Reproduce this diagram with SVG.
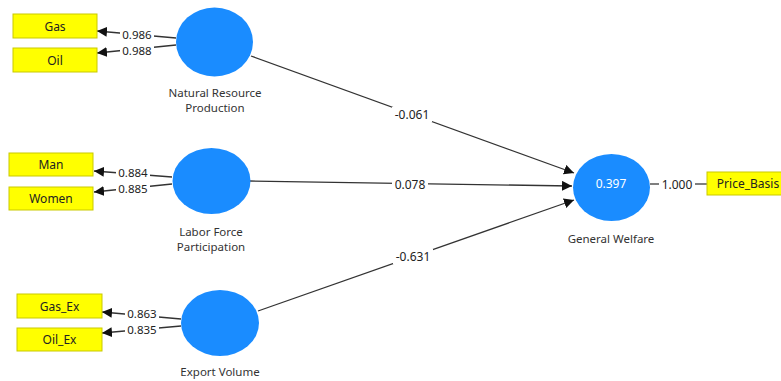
<svg xmlns="http://www.w3.org/2000/svg" width="781" height="381" viewBox="0 0 781 381">
<defs>
<marker id="ah" viewBox="0 0 10 10" refX="10" refY="5" markerWidth="10" markerHeight="10" markerUnits="userSpaceOnUse" orient="auto">
<path d="M0,0 L10,5 L0,10 z" fill="#111"/>
</marker>
<style>
.lv{fill:#1a8cff;}
.mv{fill:#ffff00;stroke:#c9c900;stroke-width:1;}
.t{font-family:"Noto Sans","Open Sans",sans-serif;font-size:12px;fill:#222;text-anchor:middle;dominant-baseline:central;}
.wt{font-family:"Noto Sans","Open Sans",sans-serif;font-size:11.5px;fill:#222;text-anchor:middle;dominant-baseline:central;}
.nl{font-family:"Noto Sans","Open Sans",sans-serif;font-size:11.5px;fill:#333;text-anchor:middle;}
.c{stroke:#555;stroke-width:1.3;fill:none;}
.ca{stroke:#333;stroke-width:1.3;fill:none;marker-end:url(#ah);}
.lb{fill:#ffffff;}
</style>
</defs>
<rect width="781" height="381" fill="#ffffff"/>

<g id="connectors">
<line class="ca" x1="176" y1="38" x2="97" y2="31"/>
<line class="ca" x1="176" y1="45" x2="97" y2="53"/>
<line class="ca" x1="172" y1="177" x2="94" y2="171"/>
<line class="ca" x1="172" y1="184" x2="94" y2="192"/>
<line class="ca" x1="181" y1="319" x2="102" y2="312"/>
<line class="ca" x1="181" y1="326" x2="102" y2="333"/>
<line class="ca" x1="251" y1="56" x2="574" y2="173"/>
<line class="ca" x1="250" y1="181" x2="572" y2="186"/>
<line class="ca" x1="258" y1="311" x2="574" y2="200"/>
<line class="c" x1="650" y1="184" x2="707" y2="184"/>
<rect class="lb" x="120" y="29" width="34" height="12"/>
<text class="wt" x="137" y="34.5">0.986</text>
<rect class="lb" x="120" y="44" width="34" height="12"/>
<text class="wt" x="137" y="50.5">0.988</text>
<rect class="lb" x="116" y="167" width="34" height="12"/>
<text class="wt" x="133" y="172.5">0.884</text>
<rect class="lb" x="116" y="182" width="34" height="12"/>
<text class="wt" x="133" y="188.5">0.885</text>
<rect class="lb" x="125" y="308" width="34" height="12"/>
<text class="wt" x="142" y="313.5">0.863</text>
<rect class="lb" x="125" y="323" width="34" height="12"/>
<text class="wt" x="142" y="329.5">0.835</text>
<rect class="lb" x="392" y="107" width="40" height="15"/>
<text class="t" x="412" y="114">-0.061</text>
<rect class="lb" x="392" y="177" width="36" height="15"/>
<text class="t" x="410" y="184">0.078</text>
<rect class="lb" x="393" y="249" width="40" height="15"/>
<text class="t" x="413" y="256">-0.631</text>
<rect class="lb" x="659" y="177" width="36" height="15"/>
<text class="t" x="677" y="184">1.000</text>
</g>

<g id="gas"><rect class="mv" x="13" y="14" width="84" height="24"/><text class="t" x="55" y="26">Gas</text></g>
<g id="oil"><rect class="mv" x="13" y="48" width="84" height="24"/><text class="t" x="55" y="60">Oil</text></g>
<g id="man"><rect class="mv" x="9" y="153" width="84" height="23"/><text class="t" x="51" y="164.5">Man</text></g>
<g id="women"><rect class="mv" x="9" y="187" width="84" height="23"/><text class="t" x="51" y="198.5">Women</text></g>
<g id="gas_ex"><rect class="mv" x="17" y="294" width="85" height="24"/><text class="t" x="59.5" y="306">Gas_Ex</text></g>
<g id="oil_ex"><rect class="mv" x="17" y="328" width="85" height="23"/><text class="t" x="59.5" y="339.5">Oil_Ex</text></g>
<g id="price_basis"><rect class="mv" x="707" y="172" width="76" height="23"/><text class="t" x="748" y="183.5">Price_Basis</text></g>

<g id="nrp"><ellipse class="lv" cx="214.5" cy="42" rx="38.5" ry="34.5"/>
<text class="nl" x="215" y="96.5">Natural Resource</text><text class="nl" x="215" y="112">Production</text></g>
<g id="lfp"><ellipse class="lv" cx="211.5" cy="181" rx="39" ry="33"/>
<text class="nl" x="211" y="235.5">Labor Force</text><text class="nl" x="211" y="251">Participation</text></g>
<g id="ev"><ellipse class="lv" cx="220" cy="323" rx="39" ry="33"/>
<text class="nl" x="220" y="376">Export Volume</text></g>
<g id="gw"><ellipse class="lv" cx="611.5" cy="187.5" rx="38.5" ry="33.5"/>
<text class="t" x="611" y="183" style="fill:#ffffff">0.397</text>
<text class="nl" x="611" y="243">General Welfare</text></g>
</svg>
